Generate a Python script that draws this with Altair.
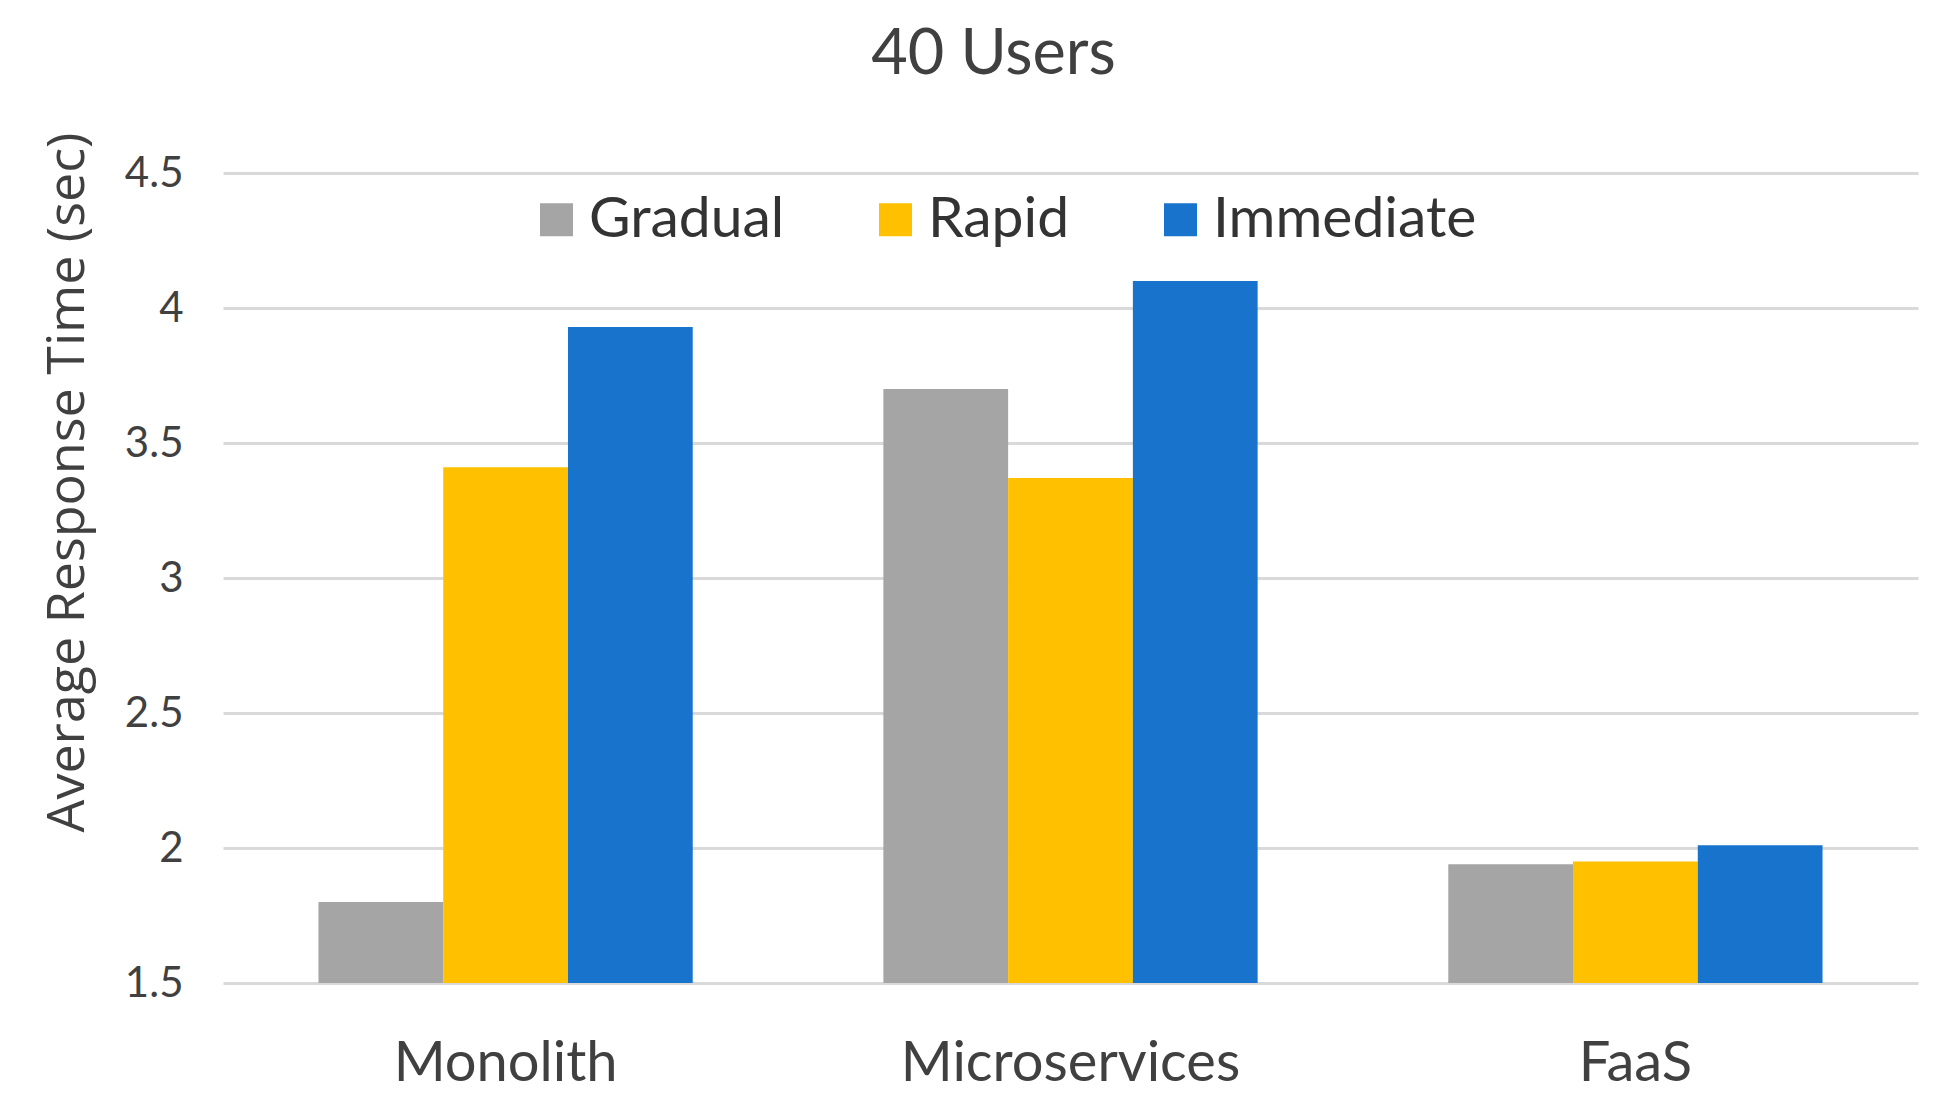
import altair as alt
import pandas as pd

categories = ["Monolith", "Microservices", "FaaS"]
series = ["Gradual", "Rapid", "Immediate"]
gradual = [1.80, 3.70, 1.94]
rapid = [3.41, 3.37, 1.95]
immediate = [3.93, 4.10, 2.01]
y_ticks = [1.5, 2, 2.5, 3, 3.5, 4, 4.5]
colors = ["#A5A5A5", "#FFC000", "#1773CB"]

rows = []
for name, vals in zip(series, [gradual, rapid, immediate]):
    for cat, v in zip(categories, vals):
        rows.append({"Architecture": cat, "Ramp": name, "Time": v})
df = pd.DataFrame(rows)

chart = alt.Chart(df).mark_bar().encode(
    x=alt.X("Architecture:N", sort=categories,
            scale=alt.Scale(paddingInner=0.3375, paddingOuter=0.169),
            axis=alt.Axis(title=None, domain=False, ticks=False, labelAngle=0,
                          labelFont="Lato", labelFontSize=56, labelColor="#404040",
                          labelBaseline="alphabetic", labelPadding=97, labelLimit=0)),
    xOffset=alt.XOffset("Ramp:N", sort=series, scale=alt.Scale(paddingInner=0, paddingOuter=0)),
    y=alt.Y("Time:Q",
            scale=alt.Scale(domain=[1.5, 4.5], nice=False, zero=False),
            axis=alt.Axis(title="Average Response Time (sec)", values=y_ticks, format="~g",
                          domain=False, ticks=False, tickSize=0,
                          labelFont="Lato", labelFontSize=42, labelColor="#404040",
                          labelPadding=40,
                          gridColor="#D9D9D9", gridWidth=3,
                          titleFont="Open Sans", titleFontSize=52, titleFontWeight="normal",
                          titleColor="#404040", titleAngle=270, titleX=-140, titleY=309,
                          titleBaseline="alphabetic", titleAlign="center")),
    y2=alt.datum(1.5),
    color=alt.Color("Ramp:N", sort=series,
                    scale=alt.Scale(domain=series, range=colors),
                    legend=alt.Legend(title=None, orient="none", direction="horizontal",
                                      legendX=305, legendY=18, padding=0,
                                      symbolType="square", symbolSize=1089,
                                      symbolStrokeWidth=0, labelOffset=4,
                                      columnPadding=82, labelLimit=0,
                                      labelFont="Lato", labelFontSize=57,
                                      labelColor="#333333")),
).properties(
    width=1695,
    height=810,
    background="white",
    title=alt.TitleParams("40 Users", font="Lato", fontSize=63, fontWeight="normal",
                          color="#404040", anchor="middle", frame="group", dx=-77,
                          baseline="alphabetic", offset=55, dy=60),
    padding={"left": 215, "top": 165, "right": 30, "bottom": 120},
    autosize=alt.AutoSizeParams(type="none"),
).configure_view(stroke=None)

chart.save("out.html", embed_options={"renderer": "svg", "actions": False})
